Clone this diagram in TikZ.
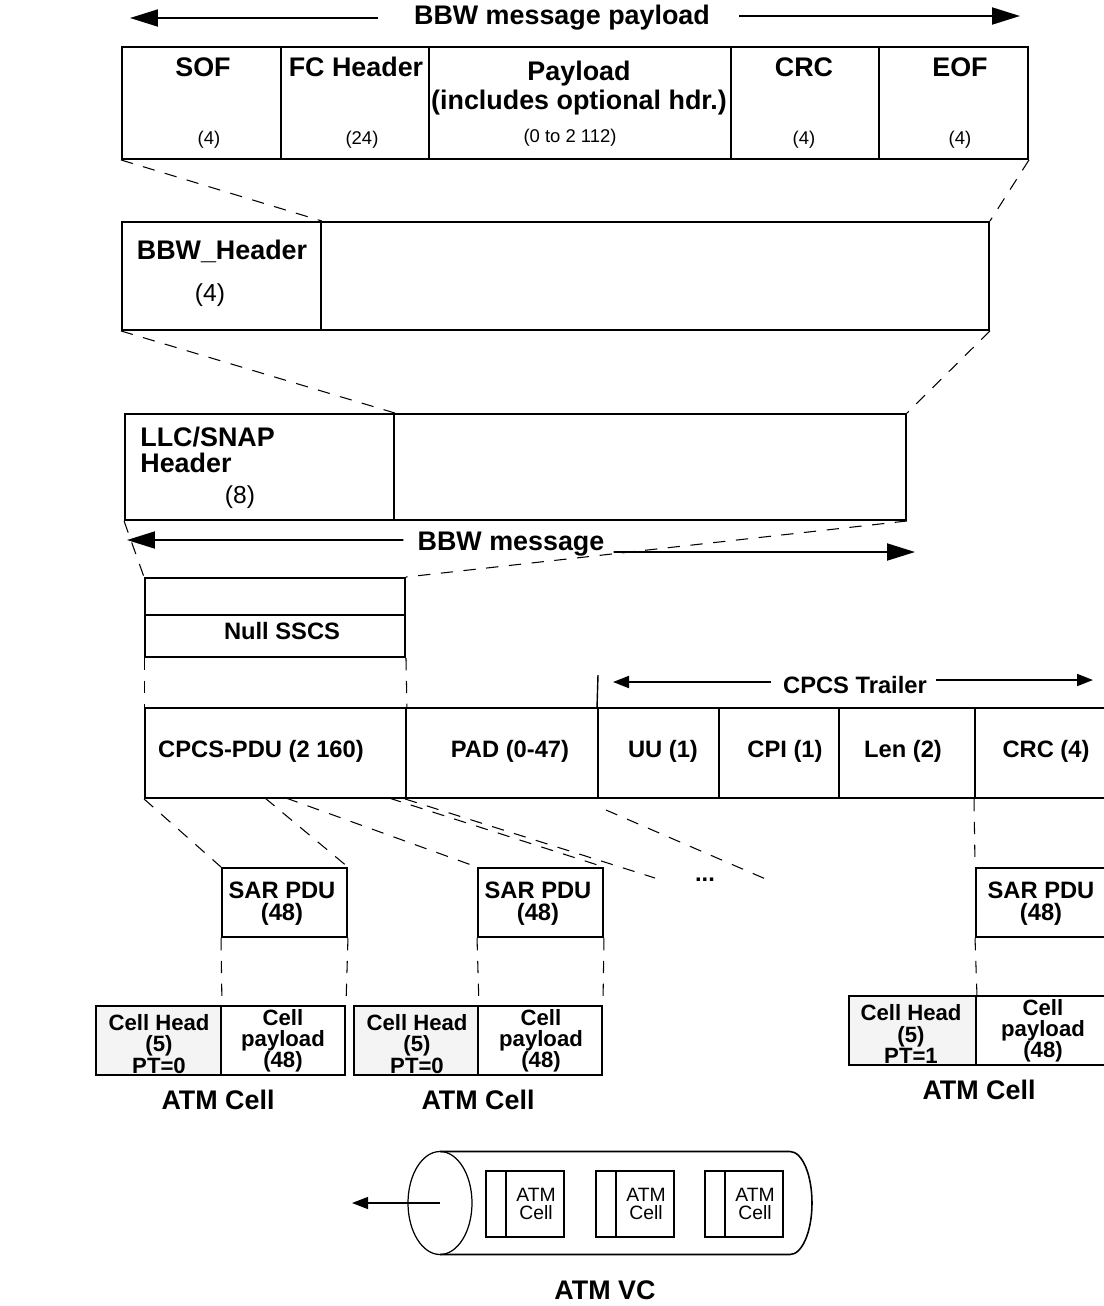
\documentclass[tikz,border=0pt]{standalone}
\usepackage{fontspec}
\setmainfont{Liberation Sans}
\usetikzlibrary{arrows.meta,fit,calc}
\definecolor{HeadGray}{HTML}{F4F4F4}
\tikzset{
  fld/.style={rectangle,draw=black,line width=1.1pt,inner sep=0pt},
  vcbox/.style={rectangle,draw=black,line width=0.7pt,inner sep=0pt},
  lnk/.style={dash pattern=on 7pt off 6pt,line width=0.6pt},
  bigarr/.style={-{Triangle[length=0.56cm,width=0.34cm]},line width=1.1pt},
  smarr/.style={-{Triangle[length=0.32cm,width=0.24cm]},line width=1.1pt},
  blbl/.style={font=\fontsize{15.3}{16.5}\selectfont\bfseries,inner sep=0pt,align=center},
  clbl/.style={font=\fontsize{13.5}{12.5}\selectfont\bfseries,inner sep=0pt,align=center},
  sarlbl/.style={font=\fontsize{13.5}{12.6}\selectfont\bfseries,inner sep=0pt,align=center},
  celllbl/.style={font=\fontsize{12.6}{12}\selectfont\bfseries,inner sep=0pt,align=center},
  nlbl/.style={font=\fontsize{10.5}{12}\selectfont,inner sep=0pt},
  mlbl/.style={font=\fontsize{14}{16}\selectfont,inner sep=0pt},
  vlbl/.style={font=\fontsize{11}{10.3}\selectfont,inner sep=0pt,align=center},
}

\begin{document}
\begin{tikzpicture}[x=0.02cm,y=-0.02cm]
  \useasboundingbox (0,0) rectangle (1104,1306);
  \clip (0,0) rectangle (1104,1306);

  % BBW message payload frame
  \node[blbl] (pl) at (562,18) {BBW message payload};
  \coordinate (plL) at (130,18);
  \coordinate (plR) at (1020,16);
  \draw[bigarr] ([xshift=-0.72cm]pl.west) -- (plL);
  \draw[bigarr] ([xshift=0.58cm,yshift=0.04cm]pl.east) -- (plR);

  \node[fld,fit={(122,47) (281,159)}] (sof) {};
  \node[fld,fit={(281,47) (429,159)}] (fch) {};
  \node[fld,fit={(429,47) (731,159)}] (pay) {};
  \node[fld,fit={(731,47) (879,159)}] (crc) {};
  \node[fld,fit={(879,47) (1028,159)}] (eof) {};
  \node[blbl] (sofT) at (203,67) {SOF};
  \node[blbl] (fchT) at (356,67) {FC Header};
  \node[blbl] (payT) at (579,88) {Payload\\(includes optional hdr.)};
  \node[blbl] (crcT) at (804,67) {CRC};
  \node[blbl] (eofT) at (960,67) {EOF};
  \node[nlbl] (sofN) at (209,140) {(4)};
  \node[nlbl] (fchN) at (362,140) {(24)};
  \node[nlbl] (payN) at (570,138) {(0 to 2 112)};
  \node[nlbl] (crcN) at (804,140) {(4)};
  \node[nlbl] (eofN) at (960,140) {(4)};

  % BBW header
  \node[fld,fit={(122,222) (321,330)}] (bbwH) {};
  \node[fld,fit={(321,222) (989,330)}] (bbwP) {};
  \node[blbl] (bbwT) at (222,251) {BBW\_Header};
  \node[mlbl] (bbwN) at (210,295) {(4)};
  \draw[lnk] (sof.south west) -- (bbwH.north east);
  \draw[lnk] (eof.south east) -- (bbwP.north east);

  % LLC/SNAP
  \node[fld,fit={(125,414) (394,520)}] (llcH) {};
  \node[fld,fit={(394,414) (906,520)}] (llcP) {};
  \node[blbl,anchor=north west,align=left,font=\fontsize{15.3}{14.5}\selectfont\bfseries] (llcT) at (140,427) {LLC/SNAP\\Header};
  \node[mlbl] (llcN) at (240,497) {(8)};
  \draw[lnk] (bbwH.south west) -- (llcH.north east);
  \draw[lnk] (bbwP.south east) -- (llcP.north east);

  \node[blbl] (bm) at (511,544) {BBW message};
  \coordinate (bmL) at (127,540);
  \coordinate (bmR) at (915,552);
  \draw[bigarr] ([xshift=-0.28cm,yshift=0.08cm]bm.west) -- (bmL);
  \draw[bigarr] ([xshift=0.18cm,yshift=-0.16cm]bm.east) -- (bmR);

  % Null SSCS
  \node[fld,fit={(145,578) (405,615)}] (sscsA) {};
  \node[fld,fit={(145,615) (405,657)}] (sscs) {};
  \node[clbl] (sscsT) at (282,631) {Null SSCS};
  \draw[lnk] (llcH.south west) -- (sscsA.north west);
  \draw[lnk] (llcP.south east) -- (sscsA.north east);

  % CPCS
  \node[fld,fit={(145,708) (406,798)}] (pdu) {};
  \node[fld,fit={(406,708) (598,798)}] (pad) {};
  \node[fld,fit={(598,708) (719,798)}] (uu) {};
  \node[fld,fit={(719,708) (839,798)}] (cpi) {};
  \node[fld,fit={(839,708) (975,798)}] (len) {};
  \node[fld,fit={(975,708) (1125,798)}] (crc4) {};
  \node[clbl] (pduT) at (261,751) {CPCS-PDU (2 160)};
  \node[clbl] (padT) at (510,751) {PAD (0-47)};
  \node[clbl] (uuT) at (663,751) {UU (1)};
  \node[clbl] (cpiT) at (785,751) {CPI (1)};
  \node[clbl] (lenT) at (903,751) {Len (2)};
  \node[clbl] (crc4T) at (1046,751) {CRC (4)};
  \draw[lnk] (sscs.south west) -- (pdu.north west);
  \draw[lnk] (sscs.south east) -- (pdu.north east);

  \node[clbl] (tr) at (855,685) {CPCS Trailer};
  \coordinate (trL) at (613,682);
  \coordinate (trR) at (1093,680);
  \coordinate (trTop) at (598,675);
  \draw[smarr] ([xshift=-0.24cm,yshift=0.06cm]tr.west) -- (trL);
  \draw[smarr] ([xshift=0.18cm,yshift=0.1cm]tr.east) -- (trR);
  \draw[line width=0.8pt] (uu.north west) -- (trTop);

  % SAR PDUs
  \node[fld,fit={(222,868) (347,937)}] (sar1) {};
  \node[fld,fit={(478,868) (603,937)}] (sar2) {};
  \node[fld,fit={(976,868) (1112,937)}] (sar3) {};
  \node[sarlbl] (sar1T) at (282,904) {SAR PDU\\(48)};
  \node[sarlbl] (sar2T) at (538,904) {SAR PDU\\(48)};
  \node[sarlbl] (sar3T) at (1041,904) {SAR PDU\\(48)};
  \node[clbl] (dots) at (705,880) {...};

  \coordinate (c1) at (265,798);
  \coordinate (c2) at (286,798);
  \coordinate (c3) at (389,798);
  \coordinate (c4) at (606,810);
  \coordinate (e1) at (655,878);
  \coordinate (e2) at (768,880);
  \draw[lnk] (pdu.south west) -- (sar1.north west);
  \draw[lnk] (c1) -- (sar1.north east);
  \draw[lnk] (c2) -- (sar2.north west);
  \draw[lnk] (c3) -- (sar2.north east);
  \draw[lnk] (pad.south west) -- (e1);
  \draw[lnk] (c4) -- (e2);
  \draw[lnk] (crc4.south west) -- (sar3.north west);

  % ATM cells
  \node[fld,fill=HeadGray,fit={(96,1006) (221,1075)}] (h1) {};
  \node[fld,fit={(221,1006) (345,1075)}] (p1) {};
  \node[fld,fill=HeadGray,fit={(354,1006) (478,1075)}] (h2) {};
  \node[fld,fit={(478,1006) (602,1075)}] (p2) {};
  \node[fld,fill=HeadGray,fit={(849,996) (976,1065)}] (h3) {};
  \node[fld,fit={(976,996) (1112,1065)}] (p3) {};
  \node[celllbl] (h1T) at (159,1044) {Cell Head\\(5)\\PT=0};
  \node[celllbl] (p1T) at (283,1041) {Cell\\payload\\(48)};
  \node[celllbl] (h2T) at (417,1044) {Cell Head\\(5)\\PT=0};
  \node[celllbl] (p2T) at (541,1041) {Cell\\payload\\(48)};
  \node[celllbl] (h3T) at (911,1034) {Cell Head\\(5)\\PT=1};
  \node[celllbl] (p3T) at (1043,1031) {Cell\\payload\\(48)};
  \draw[lnk] (sar1.south west) -- (h1.north east);
  \draw[lnk] (sar1.south east) -- (p1.north east);
  \draw[lnk] (sar2.south west) -- (h2.north east);
  \draw[lnk] (sar2.south east) -- (p2.north east);
  \draw[lnk] (sar3.south west) -- (h3.north east);
  \node[blbl] (atm1) at (218,1100) {ATM Cell};
  \node[blbl] (atm2) at (478,1100) {ATM Cell};
  \node[blbl] (atm3) at (979,1090) {ATM Cell};

  % ATM VC
  \draw[line width=0.7pt] (440,1203) ellipse [x radius=32, y radius=51.5];
  \draw[line width=0.9pt] (440,1151.5) -- (790,1151.5)
    arc[start angle=-90, end angle=90, x radius=22, y radius=51.5] -- (440,1254.5);
  \foreach \i/\x in {1/486,2/596,3/705}{
    \node[vcbox,fit={(\x,1171) (\x+20,1237)}] (vcH\i) {};
    \node[vcbox,fit={(\x+20,1171) (\x+78,1237)}] (vc\i) {};
    \node[vlbl] (vcT\i) at (\x+50,1204) {ATM\\Cell};
  }
  \coordinate (vcC) at (440,1203);
  \coordinate (vcL) at (352,1203);
  \draw[smarr,line width=0.8pt] (vcC) -- (vcL);
  \node[blbl] (vcT) at (605,1290) {ATM VC};

\end{tikzpicture}
\end{document}
